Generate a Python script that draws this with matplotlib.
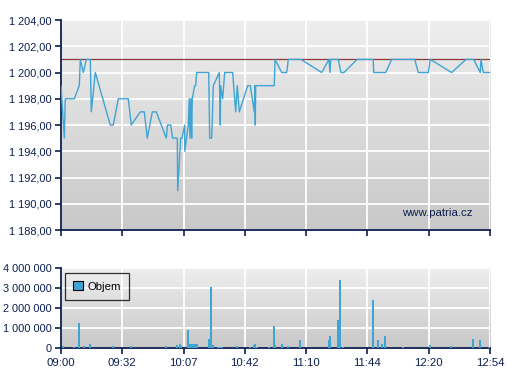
import matplotlib.pyplot as plt
import numpy as np
from matplotlib.patches import Patch

# x positions are in tick units (0 = 09:00 ... 7 = 12:54), the axis is trade-index based
price_x = [0.0, 0.054, 0.07, 0.217, 0.299, 0.315, 0.364, 0.413, 0.478, 0.494, 0.56, 0.804, 0.853,
           0.935, 1.098, 1.147, 1.294, 1.359, 1.408, 1.49, 1.555, 1.718, 1.737, 1.79, 1.82, 1.898,
           1.904, 1.953, 1.974, 2.018, 2.02, 2.077, 2.093, 2.105, 2.121, 2.132, 2.142, 2.181, 2.198,
           2.214, 2.41, 2.426, 2.459, 2.485, 2.583, 2.599, 2.606, 2.638, 2.671, 2.801, 2.85, 2.877,
           2.909, 3.046, 3.089, 3.154, 3.165, 3.17, 3.177, 3.48, 3.492, 3.601, 3.683, 3.709, 3.916,
           4.254, 4.373, 4.389, 4.4, 4.524, 4.568, 4.617, 4.83, 5.095, 5.102, 5.298, 5.396, 5.771,
           5.83, 5.993, 6.025, 6.374, 6.608, 6.733, 6.841, 6.852, 6.89, 7.0]
price = [1199, 1195, 1198, 1198, 1199, 1201, 1200, 1201, 1201, 1197, 1200, 1196, 1196,
         1198, 1198, 1196, 1197, 1197, 1195, 1197, 1197, 1195, 1196, 1196, 1195, 1195,
         1191, 1195, 1195, 1196, 1194, 1196, 1198, 1195, 1198, 1195, 1198, 1199, 1199,
         1200, 1200, 1195, 1195, 1199, 1200, 1196, 1199, 1198, 1200, 1200, 1197, 1199,
         1197, 1199, 1199, 1197, 1199, 1196, 1199, 1199, 1201, 1200, 1200, 1201, 1201,
         1200, 1201, 1200, 1201, 1201, 1200, 1200, 1201, 1201, 1200, 1200, 1201, 1201,
         1200, 1200, 1201, 1200, 1201, 1201, 1200, 1201, 1200, 1200]
ref_price = 1201

vol_x = [0.038, 0.217, 0.289, 0.37, 0.473, 0.853, 1.142, 1.713, 1.893, 1.942, 1.958, 2.067, 2.088,
         2.121, 2.154, 2.186, 2.214, 2.41, 2.442, 2.475, 2.566, 2.599, 2.632, 2.872, 3.084, 3.149,
         3.17, 3.203, 3.394, 3.47, 3.496, 3.606, 3.704, 3.894, 4.372, 4.389, 4.519, 4.547, 4.601,
         5.09, 5.172, 5.237, 5.286, 5.58, 6.02, 6.363, 6.722, 6.836, 6.982]
volume = [120000, 50000, 1270000, 120000, 200000, 100000, 100000, 100000, 150000, 200000, 100000,
          920000, 200000, 200000, 200000, 200000, 200000, 470000, 3070000, 150000, 70000, 70000,
          70000, 120000, 50000, 150000, 220000, 50000, 50000, 1120000, 170000, 220000, 120000,
          420000, 420000, 620000, 1420000, 3420000, 50000, 2420000, 380000, 220000, 620000, 50000,
          150000, 100000, 470000, 420000, 50000]

time_labels = ['09:00', '09:32', '10:07', '10:42', '11:10', '11:44', '12:20', '12:54']
price_ticks = [1188, 1190, 1192, 1194, 1196, 1198, 1200, 1202, 1204]
vol_ticks = [0, 1000000, 2000000, 3000000, 4000000]

navy = '#0c1f4f'
blue = '#3fa4d4'
plt.rcParams['font.family'] = ['Liberation Sans', 'DejaVu Sans']
plt.rcParams['font.size'] = 8


def fmt_num(v, decimals):
    s = f"{v:,.{decimals}f}"
    return s.replace(',', ' ').replace('.', ',')


def style(ax):
    grad = np.linspace(0, 1, 256).reshape(-1, 1)
    ax.imshow(grad, aspect='auto', extent=[0, 1, 0, 1], transform=ax.transAxes,
              cmap=plt.matplotlib.colors.LinearSegmentedColormap.from_list('g', ['#eeeeee', '#c8c8c8']),
              zorder=0)
    ax.set_axisbelow(True)
    ax.grid(True, color='white', lw=1.3)
    for s in ['top', 'right']:
        ax.spines[s].set_visible(False)
    for s in ['left', 'bottom']:
        ax.spines[s].set_color(navy)
        ax.spines[s].set_linewidth(1.3)
    ax.tick_params(colors=navy, labelcolor=navy, length=4, width=1.2, labelsize=7.9, pad=2.5)
    ax.set_xlim(0, 7)
    ax.set_xticks(range(8))


fig = plt.figure(figsize=(5.07, 3.8), dpi=100)
ax_price = fig.add_axes([0.1203, 0.3947, 0.8462, 0.5526])
ax_vol = fig.add_axes([0.1203, 0.0842, 0.8462, 0.2105])

style(ax_price)
ax_price.plot(price_x, price, color=blue, lw=1.0, zorder=3)
ax_price.axhline(ref_price, color='#8a3a3a', lw=0.9, zorder=2)
ax_price.set_ylim(1188, 1204)
ax_price.set_yticks(price_ticks)
ax_price.set_yticklabels([fmt_num(v, 2) for v in price_ticks])
ax_price.set_xticklabels([])
ax_price.text(0.96, 0.08, 'www.patria.cz', transform=ax_price.transAxes, ha='right', va='center',
              color=navy, fontsize=8.2, zorder=4)

style(ax_vol)
ax_vol.tick_params(axis='x', pad=3.5, labelsize=8.2)
ax_vol.bar(vol_x, volume, width=0.034, color=blue, zorder=3)
ax_vol.set_ylim(0, 4000000)
ax_vol.set_yticks(vol_ticks)
ax_vol.set_yticklabels([fmt_num(v, 0) for v in vol_ticks])
ax_vol.set_xticklabels(time_labels)
leg = ax_vol.legend(handles=[Patch(facecolor=blue, edgecolor='black', lw=0.8, label='Objem')],
                    loc='upper left', bbox_to_anchor=(0.009, 0.94), borderaxespad=0, frameon=True,
                    fancybox=False, handlelength=0.8, handleheight=0.8, handletextpad=0.4,
                    borderpad=0.75, fontsize=8.2)
leg.get_frame().set_edgecolor('black')
leg.get_frame().set_facecolor('none')
leg.get_frame().set_linewidth(0.9)

fig.savefig('out.png', dpi=100)
